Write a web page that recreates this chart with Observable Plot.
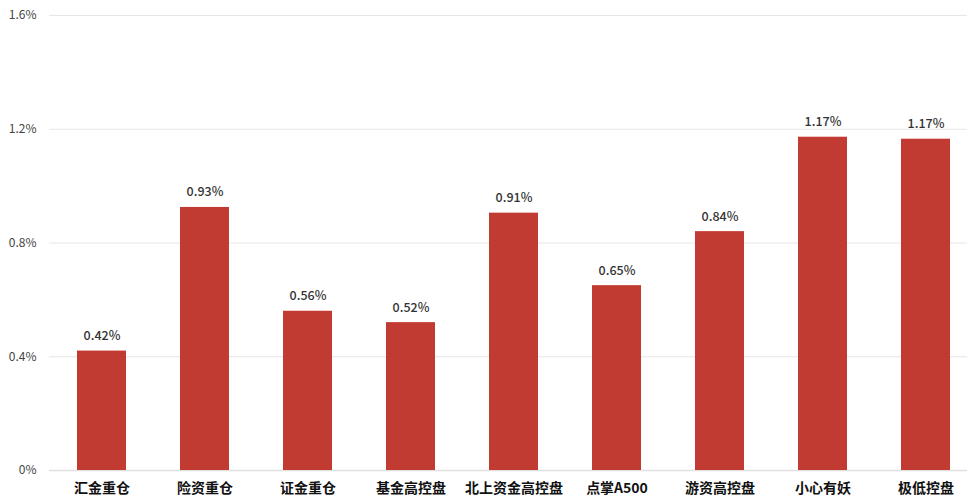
<!DOCTYPE html>
<html>
<head>
<meta charset="utf-8">
<script src="https://cdn.jsdelivr.net/npm/d3@7"></script>
<script src="https://cdn.jsdelivr.net/npm/@observablehq/plot@0.6"></script>
<style>
  html, body { margin: 0; padding: 0; background: #fff; }
  #chart svg { display: block; }
</style>
</head>
<body>
<div id="chart"></div>
<script>
const categories = ["汇金重仓", "险资重仓", "证金重仓", "基金高控盘", "北上资金高控盘", "点掌A500", "游资高控盘", "小心有妖", "极低控盘"];
const values = [0.42, 0.925, 0.56, 0.52, 0.905, 0.65, 0.84, 1.172, 1.165];
const yTicks = [0, 0.4, 0.8, 1.2, 1.6];
const yTickLabels = ["0%", "0.4%", "0.8%", "1.2%", "1.6%"];

const data = categories.map((c, i) => ({category: c, value: values[i]}));
const labels = ["0.42%", "0.93%", "0.56%", "0.52%", "0.91%", "0.65%", "0.84%", "1.17%", "1.17%"];
data.forEach((d, i) => d.label = labels[i]);
const font = "'Noto Sans CJK SC', 'Noto Sans', sans-serif";

const chart = Plot.plot({
  width: 967,
  height: 502,
  marginTop: 15,
  marginBottom: 32,
  marginLeft: 49,
  marginRight: 0,
  style: {fontFamily: font, background: "#fff"},
  x: {
    domain: categories,
    range: [48, 979],
    paddingInner: 0.525,
    paddingOuter: 0.271,
    label: null
  },
  y: {
    domain: [0, 1.6],
    ticks: yTicks,
    label: null
  },
  marks: [
    Plot.ruleY(yTicks.slice(1), {stroke: "#e6e6e6", strokeWidth: 1}),
    Plot.ruleY([0], {stroke: "#e0e0e0", strokeWidth: 1.5}),
    Plot.barY(data, {x: "category", y: "value", fill: "#c23b32"}),
    Plot.text(data, {
      x: "category", y: "value",
      text: "label",
      dy: -15, lineAnchor: "middle",
      fontSize: 12.5, fontWeight: 500, fill: "#333"
    }),
    Plot.axisY({
      ticks: yTicks,
      tickFormat: (d) => yTickLabels[yTicks.indexOf(d)],
      tickSize: 0, tickPadding: 13,
      fontSize: 12, color: "#444", label: null
    }),
    Plot.axisX({
      tickSize: 0, tickPadding: 13,
      fontSize: 14, fontWeight: "bold", color: "#111", label: null
    })
  ]
});
document.getElementById("chart").appendChild(chart);
</script>
</body>
</html>
